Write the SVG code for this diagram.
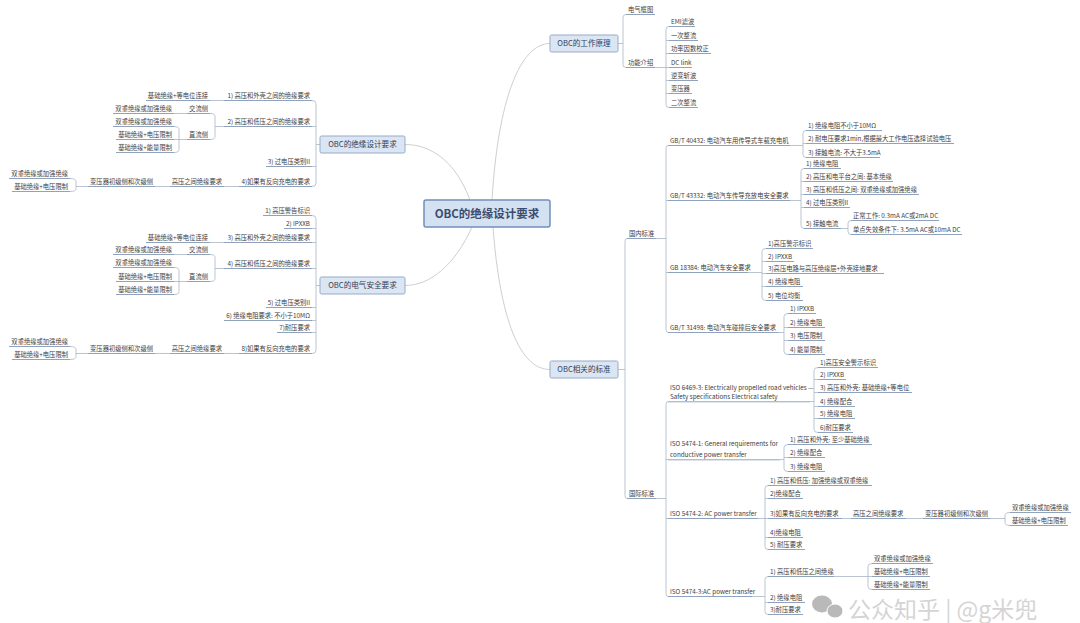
<svg xmlns="http://www.w3.org/2000/svg" width="1080" height="623" viewBox="0 0 1080 623">
<style>
.t{font-family:"Noto Sans CJK SC","Liberation Sans",sans-serif;font-size:6.3px;fill:#3d3d3d}
.e{text-anchor:end}
.u{stroke:#8298b7;stroke-width:0.9}
.c{fill:none;stroke:#aab6c6;stroke-width:0.8}
.m{fill:none;stroke:#cfcfcf;stroke-width:1}
.b{fill:#dce6f3;stroke:#93abcb;stroke-width:1}
.bt{font-family:"Noto Sans CJK SC","Liberation Sans",sans-serif;font-size:7.6px;fill:#2f3d58;text-anchor:middle}
.ct{font-family:"Noto Sans CJK SC","Liberation Sans",sans-serif;font-size:11.5px;font-weight:bold;fill:#3b4d6e;text-anchor:middle}
.w{font-family:"Noto Sans CJK SC",sans-serif;font-size:23px;fill:#8c8c8c;opacity:0.6}
</style>
<rect width="1080" height="623" fill="#ffffff"/>
<g id="connectors">
<path class="m" d="M492,200C498,100 520,43.5 550,43.5"/>
<path class="m" d="M470,200C455,160 430,144.5 405,144.5"/>
<path class="m" d="M472,227C455,265 430,285.5 405,285.5"/>
<path class="m" d="M493,227C500,320 520,369.5 550,369.5"/>
<path class="c" d="M618,43.5H623M626,14.5Q623,14.5 623,17.5V64.5Q623,67.5 626,67.5"/>
<path class="c" d="M655,67.5H666M669,26.5Q666,26.5 666,29.5V104.5Q666,107.5 669,107.5M666,40.5H669M666,53.5H669M666,67.5H669M666,80.5H669M666,93.5H669"/>
<path class="c" d="M618,369.5H625M627,238.5Q625,238.5 625,241.5V495.5Q625,498.5 627,498.5"/>
<path class="c" d="M656,238.5H666M668,145.5Q666,145.5 666,148.5V329.5Q666,332.5 668,332.5M666,200.5H668M666,272.5H668"/>
<path class="c" d="M790,145.5H803M806,130.5Q803,130.5 803,133.5V154.5Q803,157.5 806,157.5M803,143.5H806"/>
<path class="c" d="M790,200.5H801M804,168.5Q801,168.5 801,171.5V225.5Q801,228.5 804,228.5M801,181.5H804M801,194.5H804M801,207.5H804"/>
<path class="c" d="M841,228.5H848M851,220.5Q848,220.5 848,223.5V231.5Q848,234.5 851,234.5"/>
<path class="c" d="M748,272.5H762M766,248.5Q762,248.5 762,251.5V297.5Q762,300.5 766,300.5M762,261.5H766M762,273.5H766M762,286.5H766"/>
<path class="c" d="M778,332.5H784M788,313.5Q784,313.5 784,316.5V351.5Q784,354.5 788,354.5M784,327.5H788M784,340.5H788"/>
<path class="c" d="M656,498.5H666M668,401.5Q666,401.5 666,404.5V593.5Q666,596.5 668,596.5M666,459.5H668M666,518.5H668"/>
<path class="c" d="M810,401.5H814M818,367.5Q814,367.5 814,370.5V429.5Q814,432.5 818,432.5M814,379.5H818M814,392.5H818M814,406.5H818M814,418.5H818"/>
<path class="c" d="M780,459.5H784M788,444.5Q784,444.5 784,447.5V468.5Q784,471.5 788,471.5M784,457.5H788"/>
<path class="c" d="M758,518.5H765M768,485.5Q765,485.5 765,488.5V546.5Q765,549.5 768,549.5M765,498.5H768M765,518.5H768M765,537.5H768"/>
<path class="c" d="M842,518.5H851M906,518.5H923M990,518.5H1005M1010,512.5Q1005,512.5 1005,515.5V522.5Q1005,525.5 1010,525.5"/>
<path class="c" d="M752,596.5H765M768,576.5Q765,576.5 765,579.5V611.5Q765,614.5 768,614.5M765,602.5H768"/>
<path class="c" d="M834,576.5H868M872,563.5Q868,563.5 868,566.5V586.5Q868,589.5 872,589.5M868,576.5H872"/>
<path class="c" d="M320,144.5H316M312,100.5Q316,100.5 316,103.5V183.5Q316,186.5 312,186.5M316,126.5H312M316,166.5H312"/>
<path class="c" d="M210,100.5H224"/>
<path class="c" d="M224,126.5H215M210,113.5Q215,113.5 215,116.5V136.5Q215,139.5 210,139.5M174,113.5H187"/>
<path class="c" d="M187,139.5H179M174,126.5Q179,126.5 179,129.5V149.5Q179,152.5 174,152.5M179,139.5H174"/>
<path class="c" d="M224,186.5H239M155,186.5H170M88,186.5H76M70,178.5Q76,178.5 76,181.5V188.5Q76,191.5 70,191.5"/>
<path class="c" d="M320,285.5H316M312,215.5Q316,215.5 316,218.5V350.5Q316,353.5 312,353.5M316,228.5H312M316,242.5H312M316,268.5H312M316,307.5H312M316,320.5H312M316,332.5H312"/>
<path class="c" d="M210,242.5H224"/>
<path class="c" d="M224,268.5H215M210,254.5Q215,254.5 215,257.5V278.5Q215,281.5 210,281.5M174,254.5H187"/>
<path class="c" d="M187,281.5H179M174,267.5Q179,267.5 179,270.5V291.5Q179,294.5 174,294.5M179,281.5H174"/>
<path class="c" d="M224,353.5H239M155,353.5H170M88,353.5H76M70,346.5Q76,346.5 76,349.5V356.5Q76,359.5 70,359.5"/>
</g>
<g id="center"><rect x="424" y="200" width="126" height="27" rx="2" fill="#d4e1f1" stroke="#7090bb" stroke-width="1.5"/><text class="ct" x="487" y="217.8">OBC的绝缘设计要求</text></g>
<g id="b-principle"><rect class="b" x="550" y="35" width="68" height="17" rx="1.5"/><text class="bt" x="584" y="46.3">OBC的工作原理</text></g>
<g id="b-design"><rect class="b" x="320" y="136" width="85" height="17" rx="1.5"/><text class="bt" x="362.5" y="147.3">OBC的绝缘设计要求</text></g>
<g id="b-safety"><rect class="b" x="320" y="277" width="85" height="17" rx="1.5"/><text class="bt" x="362.5" y="288.3">OBC的电气安全要求</text></g>
<g id="b-standard"><rect class="b" x="550" y="361" width="68" height="17" rx="1.5"/><text class="bt" x="584" y="372.3">OBC相关的标准</text></g>

<g id="gz1"><text class="t" x="628" y="12.2">电气框图</text><line class="u" x1="626" y1="14.5" x2="655" y2="14.5"/></g>
<g id="gz2"><text class="t" x="628" y="65.2">功能介绍</text><line class="u" x1="626" y1="67.5" x2="655" y2="67.5"/></g>
<g id="gn1"><text class="t" x="671" y="24.2">EMI滤波</text><line class="u" x1="669" y1="26.5" x2="695" y2="26.5"/></g>
<g id="gn2"><text class="t" x="671" y="38.2">一次整流</text><line class="u" x1="669" y1="40.5" x2="698" y2="40.5"/></g>
<g id="gn3"><text class="t" x="671" y="51.2">功率因数校正</text><line class="u" x1="669" y1="53.5" x2="711" y2="53.5"/></g>
<g id="gn4"><text class="t" x="671" y="65.2">DC link</text><line class="u" x1="669" y1="67.5" x2="692" y2="67.5"/></g>
<g id="gn5"><text class="t" x="671" y="78.2">逆变斩波</text><line class="u" x1="669" y1="80.5" x2="698" y2="80.5"/></g>
<g id="gn6"><text class="t" x="671" y="91.2">变压器</text><line class="u" x1="669" y1="93.5" x2="692" y2="93.5"/></g>
<g id="gn7"><text class="t" x="671" y="105.2">二次整流</text><line class="u" x1="669" y1="107.5" x2="698" y2="107.5"/></g>

<g id="gb1"><text class="t" x="629" y="236.2">国内标准</text><line class="u" x1="627" y1="238.5" x2="656" y2="238.5"/></g>
<g id="gb2"><text class="t" x="629" y="496.2">国际标准</text><line class="u" x1="627" y1="498.5" x2="656" y2="498.5"/></g>

<g id="d1"><text class="t" x="670" y="143.2">GB/T 40432: 电动汽车用传导式车载充电机</text><line class="u" x1="668" y1="145.5" x2="790" y2="145.5"/></g>
<g id="d1a"><text class="t" x="808" y="128.2">1) 绝缘电阻不小于10MΩ</text><line class="u" x1="806" y1="130.5" x2="882" y2="130.5"/></g>
<g id="d1b"><text class="t" x="808" y="141.2">2) 耐电压要求1min,根据最大工作电压选择试验电压</text><line class="u" x1="806" y1="143.5" x2="954" y2="143.5"/></g>
<g id="d1c"><text class="t" x="808" y="155.2">3) 接触电流: 不大于3.5mA</text><line class="u" x1="806" y1="157.5" x2="880" y2="157.5"/></g>
<g id="d2"><text class="t" x="670" y="198.2">GB/T 43332: 电动汽车传导充放电安全要求</text><line class="u" x1="668" y1="200.5" x2="790" y2="200.5"/></g>
<g id="d2a"><text class="t" x="806" y="166.2">1) 绝缘电阻</text><line class="u" x1="804" y1="168.5" x2="841" y2="168.5"/></g>
<g id="d2b"><text class="t" x="806" y="179.2">2) 高压和电平台之间: 基本绝缘</text><line class="u" x1="804" y1="181.5" x2="893" y2="181.5"/></g>
<g id="d2c"><text class="t" x="806" y="192.2">3) 高压和低压之间: 双重绝缘或加强绝缘</text><line class="u" x1="804" y1="194.5" x2="919" y2="194.5"/></g>
<g id="d2d"><text class="t" x="806" y="205.2">4) 过电压类别II</text><line class="u" x1="804" y1="207.5" x2="850" y2="207.5"/></g>
<g id="d2e"><text class="t" x="806" y="226.2">5) 接触电流</text><line class="u" x1="804" y1="228.5" x2="841" y2="228.5"/></g>
<g id="d2e1"><text class="t" x="853" y="218.2">正常工作: 0.3mA AC或2mA DC</text><line class="u" x1="851" y1="220.5" x2="939" y2="220.5"/></g>
<g id="d2e2"><text class="t" x="853" y="232.2">单点失效条件下: 3.5mA AC或10mA DC</text><line class="u" x1="851" y1="234.5" x2="962" y2="234.5"/></g>
<g id="d3"><text class="t" x="670" y="270.2">GB 18384: 电动汽车安全要求</text><line class="u" x1="668" y1="272.5" x2="748" y2="272.5"/></g>
<g id="d3a"><text class="t" x="768" y="246.2">1)高压警示标识</text><line class="u" x1="766" y1="248.5" x2="813" y2="248.5"/></g>
<g id="d3b"><text class="t" x="768" y="259.2">2) IPXXB</text><line class="u" x1="766" y1="261.5" x2="794" y2="261.5"/></g>
<g id="d3c"><text class="t" x="768" y="271.2">3)高压电路与高压绝缘层+外壳接地要求</text><line class="u" x1="766" y1="273.5" x2="884" y2="273.5"/></g>
<g id="d3d"><text class="t" x="768" y="284.2">4) 绝缘电阻</text><line class="u" x1="766" y1="286.5" x2="803" y2="286.5"/></g>
<g id="d3e"><text class="t" x="768" y="298.2">5) 电位均衡</text><line class="u" x1="766" y1="300.5" x2="803" y2="300.5"/></g>
<g id="d4"><text class="t" x="670" y="330.2">GB/T 31498: 电动汽车碰撞后安全要求</text><line class="u" x1="668" y1="332.5" x2="778" y2="332.5"/></g>
<g id="d4a"><text class="t" x="790" y="311.2">1) IPXXB</text><line class="u" x1="788" y1="313.5" x2="816" y2="313.5"/></g>
<g id="d4b"><text class="t" x="790" y="325.2">2) 绝缘电阻</text><line class="u" x1="788" y1="327.5" x2="825" y2="327.5"/></g>
<g id="d4c"><text class="t" x="790" y="338.2">3) 电压限制</text><line class="u" x1="788" y1="340.5" x2="825" y2="340.5"/></g>
<g id="d4d"><text class="t" x="790" y="352.2">4) 能量限制</text><line class="u" x1="788" y1="354.5" x2="825" y2="354.5"/></g>

<g id="e1"><text class="t" x="670" y="390.2">ISO 6469-3: Electrically propelled road vehicles —</text><text class="t" x="670" y="399.2">Safety specifications Electrical safety</text><line class="u" x1="668" y1="401.8" x2="810" y2="401.8"/></g>
<g id="e1a"><text class="t" x="820" y="365.2">1)高压安全警示标识</text><line class="u" x1="818" y1="367.5" x2="878" y2="367.5"/></g>
<g id="e1b"><text class="t" x="820" y="377.2">2) IPXXB</text><line class="u" x1="818" y1="379.5" x2="846" y2="379.5"/></g>
<g id="e1c"><text class="t" x="820" y="390.2">3) 高压和外壳: 基础绝缘+等电位</text><line class="u" x1="818" y1="392.5" x2="912" y2="392.5"/></g>
<g id="e1d"><text class="t" x="820" y="404.2">4) 绝缘配合</text><line class="u" x1="818" y1="406.5" x2="855" y2="406.5"/></g>
<g id="e1e"><text class="t" x="820" y="416.2">5) 绝缘电阻</text><line class="u" x1="818" y1="418.5" x2="855" y2="418.5"/></g>
<g id="e1f"><text class="t" x="820" y="430.2">6)耐压要求</text><line class="u" x1="818" y1="432.5" x2="853" y2="432.5"/></g>
<g id="e2"><text class="t" x="670" y="446.2">ISO 5474-1: General requirements for</text><text class="t" x="670" y="457.2">conductive power transfer</text><line class="u" x1="668" y1="459.8" x2="780" y2="459.8"/></g>
<g id="e2a"><text class="t" x="790" y="442.2">1) 高压和外壳: 至少基础绝缘</text><line class="u" x1="788" y1="444.5" x2="872" y2="444.5"/></g>
<g id="e2b"><text class="t" x="790" y="455.2">2) 绝缘配合</text><line class="u" x1="788" y1="457.5" x2="825" y2="457.5"/></g>
<g id="e2c"><text class="t" x="790" y="469.2">3) 绝缘电阻</text><line class="u" x1="788" y1="471.5" x2="825" y2="471.5"/></g>
<g id="e3"><text class="t" x="670" y="516.2">ISO 5474-2: AC power transfer</text><line class="u" x1="668" y1="518.5" x2="758" y2="518.5"/></g>
<g id="e3a"><text class="t" x="770" y="483.2">1) 高压和低压: 加强绝缘或双重绝缘</text><line class="u" x1="768" y1="485.5" x2="872" y2="485.5"/></g>
<g id="e3b"><text class="t" x="770" y="496.2">2)绝缘配合</text><line class="u" x1="768" y1="498.5" x2="803" y2="498.5"/></g>
<g id="e3c"><text class="t" x="770" y="516.2">3)如果有反向充电的要求</text><line class="u" x1="768" y1="518.5" x2="842" y2="518.5"/></g>
<g id="e3d"><text class="t" x="770" y="535.2">4)绝缘电阻</text><line class="u" x1="768" y1="537.5" x2="803" y2="537.5"/></g>
<g id="e3e"><text class="t" x="770" y="547.2">5) 耐压要求</text><line class="u" x1="768" y1="549.5" x2="805" y2="549.5"/></g>
<g id="e3c1"><text class="t" x="853" y="516.2">高压之间绝缘要求</text><line class="u" x1="851" y1="518.5" x2="906" y2="518.5"/></g>
<g id="e3c2"><text class="t" x="925" y="516.2">变压器初级侧和次级侧</text><line class="u" x1="923" y1="518.5" x2="990" y2="518.5"/></g>
<g id="e3c3"><text class="t" x="1012" y="510.2">双重绝缘或加强绝缘</text><line class="u" x1="1010" y1="512.5" x2="1071" y2="512.5"/></g>
<g id="e3c4"><text class="t" x="1012" y="523.2">基础绝缘+电压限制</text><line class="u" x1="1010" y1="525.5" x2="1068" y2="525.5"/></g>
<g id="e4"><text class="t" x="670" y="594.2">ISO 5474-3:AC power transfer</text><line class="u" x1="668" y1="596.5" x2="752" y2="596.5"/></g>
<g id="e4a"><text class="t" x="770" y="574.2">1) 高压和低压之间绝缘</text><line class="u" x1="768" y1="576.5" x2="834" y2="576.5"/></g>
<g id="e4b"><text class="t" x="770" y="600.2">2) 绝缘电阻</text><line class="u" x1="768" y1="602.5" x2="805" y2="602.5"/></g>
<g id="e4c"><text class="t" x="770" y="612.2">3)耐压要求</text><line class="u" x1="768" y1="614.5" x2="803" y2="614.5"/></g>
<g id="e4a1"><text class="t" x="874" y="561.2">双重绝缘或加强绝缘</text><line class="u" x1="872" y1="563.5" x2="933" y2="563.5"/></g>
<g id="e4a2"><text class="t" x="874" y="574.2">基础绝缘+电压限制</text><line class="u" x1="872" y1="576.5" x2="930" y2="576.5"/></g>
<g id="e4a3"><text class="t" x="874" y="587.2">基础绝缘+能量限制</text><line class="u" x1="872" y1="589.5" x2="930" y2="589.5"/></g>

<g id="f1"><text class="t e" x="310" y="98.2">1) 高压和外壳之间的绝缘要求</text><line class="u" x1="224" y1="100.5" x2="312" y2="100.5"/></g>
<g id="f1c"><text class="t e" x="208" y="98.2">基础绝缘+等电位连接</text><line class="u" x1="146" y1="100.5" x2="210" y2="100.5"/></g>
<g id="f2"><text class="t e" x="310" y="124.2">2) 高压和低压之间的绝缘要求</text><line class="u" x1="224" y1="126.5" x2="312" y2="126.5"/></g>
<g id="f2a"><text class="t e" x="208" y="111.2">交流侧</text><line class="u" x1="187" y1="113.5" x2="210" y2="113.5"/></g>
<g id="f2a1"><text class="t e" x="172" y="111.2">双重绝缘或加强绝缘</text><line class="u" x1="113" y1="113.5" x2="174" y2="113.5"/></g>
<g id="f2b"><text class="t e" x="208" y="137.2">直流侧</text><line class="u" x1="187" y1="139.5" x2="210" y2="139.5"/></g>
<g id="f2b1"><text class="t e" x="172" y="124.2">双重绝缘或加强绝缘</text><line class="u" x1="113" y1="126.5" x2="174" y2="126.5"/></g>
<g id="f2b2"><text class="t e" x="172" y="137.2">基础绝缘+电压限制</text><line class="u" x1="116" y1="139.5" x2="174" y2="139.5"/></g>
<g id="f2b3"><text class="t e" x="172" y="150.2">基础绝缘+能量限制</text><line class="u" x1="116" y1="152.5" x2="174" y2="152.5"/></g>
<g id="f3"><text class="t e" x="310" y="164.2">3) 过电压类别II</text><line class="u" x1="266" y1="166.5" x2="312" y2="166.5"/></g>
<g id="f4"><text class="t e" x="310" y="184.2">4)如果有反向充电的要求</text><line class="u" x1="239" y1="186.5" x2="312" y2="186.5"/></g>
<g id="f4c"><text class="t e" x="222" y="184.2">高压之间绝缘要求</text><line class="u" x1="170" y1="186.5" x2="224" y2="186.5"/></g>
<g id="f4cc"><text class="t e" x="153" y="184.2">变压器初级侧和次级侧</text><line class="u" x1="88" y1="186.5" x2="155" y2="186.5"/></g>
<g id="f4c1"><text class="t e" x="68" y="176.2">双重绝缘或加强绝缘</text><line class="u" x1="9" y1="178.5" x2="70" y2="178.5"/></g>
<g id="f4c2"><text class="t e" x="68" y="189.2">基础绝缘+电压限制</text><line class="u" x1="12" y1="191.5" x2="70" y2="191.5"/></g>

<g id="g1"><text class="t e" x="310" y="213.2">1) 高压警告标识</text><line class="u" x1="263" y1="215.5" x2="312" y2="215.5"/></g>
<g id="g2"><text class="t e" x="310" y="226.2">2) IPXXB</text><line class="u" x1="284" y1="228.5" x2="312" y2="228.5"/></g>
<g id="g3"><text class="t e" x="310" y="240.2">3) 高压和外壳之间的绝缘要求</text><line class="u" x1="224" y1="242.5" x2="312" y2="242.5"/></g>
<g id="g3c"><text class="t e" x="208" y="240.2">基础绝缘+等电位连接</text><line class="u" x1="146" y1="242.5" x2="210" y2="242.5"/></g>
<g id="g4"><text class="t e" x="310" y="266.2">4) 高压和低压之间的绝缘要求</text><line class="u" x1="224" y1="268.5" x2="312" y2="268.5"/></g>
<g id="g4a"><text class="t e" x="208" y="252.2">交流侧</text><line class="u" x1="187" y1="254.5" x2="210" y2="254.5"/></g>
<g id="g4a1"><text class="t e" x="172" y="252.2">双重绝缘或加强绝缘</text><line class="u" x1="113" y1="254.5" x2="174" y2="254.5"/></g>
<g id="g4b"><text class="t e" x="208" y="279.2">直流侧</text><line class="u" x1="187" y1="281.5" x2="210" y2="281.5"/></g>
<g id="g4b1"><text class="t e" x="172" y="265.2">双重绝缘或加强绝缘</text><line class="u" x1="113" y1="267.5" x2="174" y2="267.5"/></g>
<g id="g4b2"><text class="t e" x="172" y="279.2">基础绝缘+电压限制</text><line class="u" x1="116" y1="281.5" x2="174" y2="281.5"/></g>
<g id="g4b3"><text class="t e" x="172" y="292.2">基础绝缘+能量限制</text><line class="u" x1="116" y1="294.5" x2="174" y2="294.5"/></g>
<g id="g5"><text class="t e" x="310" y="305.2">5) 过电压类别II</text><line class="u" x1="266" y1="307.5" x2="312" y2="307.5"/></g>
<g id="g6"><text class="t e" x="310" y="318.2">6) 绝缘电阻要求: 不小于10MΩ</text><line class="u" x1="224" y1="320.5" x2="312" y2="320.5"/></g>
<g id="g7"><text class="t e" x="310" y="330.2">7)耐压要求</text><line class="u" x1="277" y1="332.5" x2="312" y2="332.5"/></g>
<g id="g8"><text class="t e" x="310" y="351.2">8)如果有反向充电的要求</text><line class="u" x1="239" y1="353.5" x2="312" y2="353.5"/></g>
<g id="g8c"><text class="t e" x="222" y="351.2">高压之间绝缘要求</text><line class="u" x1="170" y1="353.5" x2="224" y2="353.5"/></g>
<g id="g8cc"><text class="t e" x="153" y="351.2">变压器初级侧和次级侧</text><line class="u" x1="88" y1="353.5" x2="155" y2="353.5"/></g>
<g id="g8c1"><text class="t e" x="68" y="344.2">双重绝缘或加强绝缘</text><line class="u" x1="9" y1="346.5" x2="70" y2="346.5"/></g>
<g id="g8c2"><text class="t e" x="68" y="357.2">基础绝缘+电压限制</text><line class="u" x1="12" y1="359.5" x2="70" y2="359.5"/></g>

<g id="watermark" opacity="0.6">
<ellipse cx="822" cy="604" rx="10" ry="8.5" fill="#8c8c8c"/>
<ellipse cx="835" cy="611" rx="8" ry="7" fill="#8c8c8c" stroke="#ffffff" stroke-width="1"/>
<text class="w" x="848" y="618">公众知乎 | @g米兜</text>
</g>
</svg>
